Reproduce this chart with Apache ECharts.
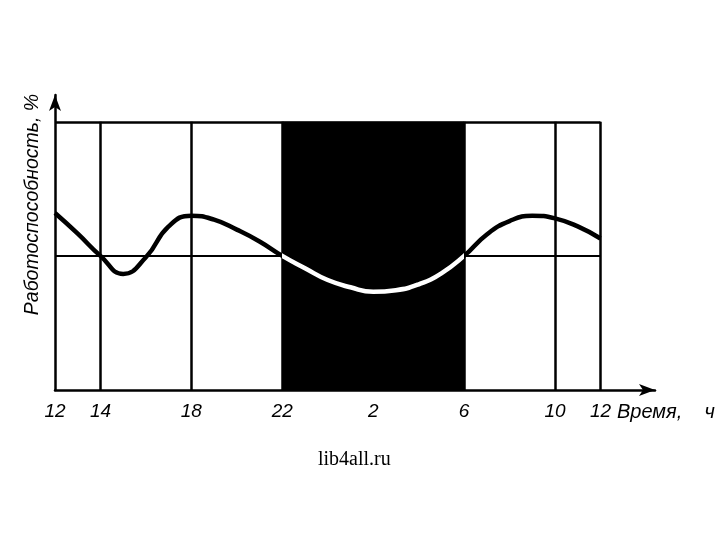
<!DOCTYPE html>
<html>
<head>
<meta charset="utf-8">
<script src="https://cdn.jsdelivr.net/npm/echarts@6/dist/echarts.min.js"></script>
<style>
html, body { margin: 0; padding: 0; background: #fff; }
#chart { width: 720px; height: 540px; }
</style>
</head>
<body>
<div id="chart"></div>
<script>
// hours counted from noon (0 = 12:00, 24 = next 12:00)
const hours = [0, 1, 2, 3, 4, 5, 6, 7, 8, 9, 10, 11, 12, 13, 14, 15, 16, 17, 18, 19, 20, 21, 22, 23, 24]
const workCapacity = [66, 58.3, 50, 43.3, 49.5, 61, 65, 63.5, 59.8, 55.4, 50, 45.4, 41, 38.3, 36.6, 37.2, 39.4, 43.5, 50, 58, 63, 65, 64, 61, 56.5]
const tickLabels = { 0: '12', 2: '14', 6: '18', 10: '22', 14: '2', 18: '6', 22: '10', 24: '12' }
const gridHours = [2, 6, 10, 18, 22, 24]
const nightStart = 10   // 22 ч
const nightEnd = 18     // 6 ч
const averageLevel = 50
const topLevel = 100

const chart = echarts.init(document.getElementById('chart'))

const lineStyle = { color: '#000', width: 2.5, type: 'solid' }

const verticalLines = gridHours.map(h => [
    { coord: [h, 0], lineStyle: lineStyle },
    { coord: [h, topLevel] }
])

const option = {
    backgroundColor: '#fff',
    animation: false,
    title: {
        text: 'lib4all.ru',
        left: 313,
        top: 445,
        textStyle: {
            fontFamily: 'Liberation Serif',
            fontWeight: 'normal',
            fontSize: 20,
            color: '#000'
        }
    },
    grid: { left: 55, right: 65, top: 95, bottom: 150 },
    xAxis: {
        type: 'value',
        min: 0,
        max: 26.4,
        interval: 2,
        name: 'Время,    ч',
        nameLocation: 'end',
        nameGap: -42,
        nameTextStyle: {
            fontFamily: 'Liberation Sans',
            fontStyle: 'italic',
            fontSize: 20,
            color: '#000',
            align: 'left',
            verticalAlign: 'top',
            padding: [12, 0, 0, 0]
        },
        axisLine: {
            show: true,
            symbol: ['none', 'arrow'],
            symbolSize: [9, 16],
            lineStyle: { color: '#000', width: 2.5 }
        },
        axisTick: { show: false },
        splitLine: { show: false },
        axisLabel: {
            margin: 12,
            fontFamily: 'Liberation Sans',
            fontStyle: 'italic',
            fontSize: 19,
            color: '#000',
            formatter: v => tickLabels[v] || ''
        }
    },
    yAxis: {
        type: 'value',
        min: 0,
        max: 110,
        name: 'Работоспособность, %',
        nameLocation: 'middle',
        nameGap: 12,
        nameTextStyle: {
            fontFamily: 'Liberation Sans',
            fontStyle: 'italic',
            fontSize: 19.5,
            color: '#000',
            padding: [0, 0, 0, 76]
        },
        axisLine: {
            show: true,
            symbol: ['none', 'arrow'],
            symbolSize: [9, 16],
            lineStyle: { color: '#000', width: 2.5 }
        },
        axisTick: { show: false },
        axisLabel: { show: false },
        splitLine: { show: false }
    },
    visualMap: {
        show: false,
        type: 'piecewise',
        dimension: 0,
        seriesIndex: 1,
        pieces: [
            { lt: nightStart, color: '#000' },
            { gte: nightStart, lte: nightEnd, color: '#fff' },
            { gt: nightEnd, color: '#000' }
        ]
    },
    series: [
        {
            // frame, night shading and reference lines
            type: 'line',
            data: [],
            z: 1,
            silent: true,
            markArea: {
                silent: true,
                itemStyle: { color: '#000' },
                data: [[
                    { xAxis: nightStart, yAxis: 0 },
                    { xAxis: nightEnd, yAxis: topLevel }
                ]]
            },
            markLine: {
                silent: true,
                symbol: 'none',
                label: { show: false },
                lineStyle: lineStyle,
                data: verticalLines.concat([
                    [{ coord: [0, topLevel] }, { coord: [24, topLevel] }],
                    [{ coord: [0, averageLevel], lineStyle: { color: '#000', width: 2, type: 'solid' } }, { coord: [24, averageLevel] }]
                ])
            }
        },
        {
            type: 'line',
            z: 5,
            smooth: 0.5,
            showSymbol: false,
            data: hours.map((h, i) => [h, workCapacity[i]]),
            lineStyle: { width: 4.5 }
        }
    ]
}

chart.setOption(option)
</script>
</body>
</html>
